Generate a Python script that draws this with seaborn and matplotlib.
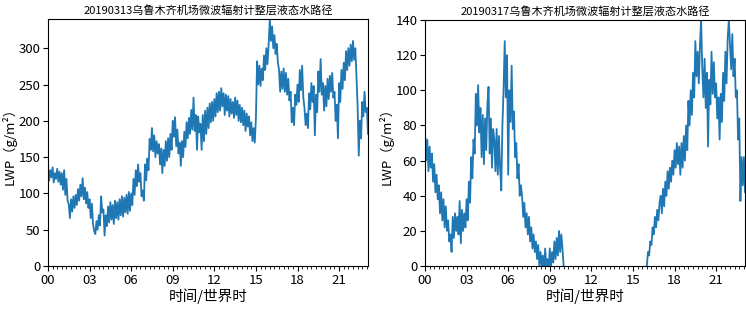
import numpy as np
import matplotlib
matplotlib.use("Agg")
import matplotlib.pyplot as plt
from matplotlib.ticker import MultipleLocator, FuncFormatter
import seaborn as sns

plt.rcParams['font.family'] = ['Noto Sans CJK SC', 'DejaVu Sans']
plt.rcParams['axes.unicode_minus'] = False

# 数据: 每5分钟一个值 (单位 g/m2)
# 2019-03-13, 00:00 - 23:05
lwp_0313 = [
    138, 118, 132, 122, 136, 115, 128, 120, 134, 116, 130, 112,   # 00
    128, 105, 132, 98, 120, 90, 85, 66, 92, 75, 96, 80,           # 01
    98, 84, 106, 90, 112, 96, 121, 92, 108, 86, 102, 80,          # 02
    92, 66, 86, 58, 48, 44, 62, 50, 70, 56, 96, 74,               # 03
    78, 42, 70, 55, 82, 60, 88, 64, 84, 58, 90, 66,               # 04
    88, 64, 92, 70, 96, 68, 94, 74, 98, 72, 102, 76,              # 05
    100, 84, 120, 98, 132, 110, 140, 116, 128, 96, 104, 90,       # 06
    140, 118, 148, 132, 175, 160, 190, 158, 180, 150, 172, 155,   # 07
    168, 140, 162, 128, 160, 138, 172, 145, 176, 150, 182, 160,   # 08
    200, 178, 205, 165, 188, 155, 170, 138, 172, 150, 185, 164,   # 09
    198, 176, 204, 182, 215, 188, 232, 186, 208, 160, 206, 184,   # 10
    196, 160, 208, 172, 214, 182, 218, 190, 224, 198, 226, 200,   # 11
    230, 206, 238, 212, 240, 214, 245, 220, 238, 208, 236, 214,   # 12
    234, 206, 230, 210, 226, 204, 232, 208, 228, 200, 222, 198,   # 13
    218, 194, 214, 186, 210, 192, 206, 180, 198, 172, 190, 170,   # 14
    205, 282, 250, 276, 248, 272, 256, 290, 270, 300, 278, 305,   # 15
    340, 310, 330, 300, 318, 292, 306, 280, 270, 240, 268, 244,   # 16
    272, 240, 266, 236, 258, 228, 240, 198, 218, 194, 236, 222,   # 17
    250, 226, 270, 242, 276, 232, 218, 194, 210, 190, 238, 216,   # 18
    252, 226, 248, 180, 236, 212, 268, 240, 285, 236, 252, 214,   # 19
    248, 220, 258, 230, 262, 240, 266, 232, 240, 200, 222, 176,   # 20
    252, 226, 270, 244, 280, 256, 296, 270, 300, 276, 305, 282,   # 21
    310, 284, 300, 262, 220, 152, 200, 176, 226, 206, 240, 212,   # 22
    218, 182,                                                     # 23
]

# 2019-03-17 第一段 00:00 - 10:00
lwp_0317_a = [
    76, 60, 72, 54, 68, 56, 64, 48, 58, 42, 52, 38,               # 00
    46, 30, 42, 26, 38, 22, 34, 20, 26, 14, 18, 8,                # 01
    28, 16, 30, 20, 28, 18, 37, 13, 32, 20, 30, 22,               # 02
    38, 26, 48, 36, 62, 50, 72, 64, 98, 80, 103, 76,              # 03
    90, 62, 86, 58, 84, 66, 92, 102, 64, 84, 56, 78,              # 04
    72, 54, 78, 52, 74, 56, 43, 80, 100, 128, 96, 120,            # 05
    52, 100, 82, 114, 78, 88, 62, 70, 50, 58, 40, 46,             # 06
    40, 28, 36, 22, 30, 18, 28, 14, 22, 10, 18, 8,                # 07
    14, 4, 12, 0, 8, 0, 6, -4, 10, 0, 4, -4,                      # 08
    10, 0, 8, 2, 14, 4, 16, 6, 20, 8, 18, 10,                     # 09
    0,                                                            # 10
]
# 第二段 16:00 - 23:05
lwp_0317_b = [
    0, 8, 6, 14, 12, 22, 18, 28, 22, 32, 26, 36,                  # 16
    40, 30, 44, 34, 48, 40, 54, 44, 56, 48, 60, 52,               # 17
    66, 56, 70, 58, 68, 52, 70, 56, 74, 60, 80, 66,               # 18
    94, 80, 100, 86, 110, 96, 128, 108, 122, 104, 126, 140,       # 19
    112, 96, 118, 90, 110, 68, 106, 92, 122, 98, 116, 96,         # 20
    104, 84, 96, 72, 98, 82, 110, 94, 122, 104, 130, 140,         # 21
    126, 112, 132, 108, 118, 96, 100, 72, 84, 37, 62, 46,         # 22
    62, 42,                                                       # 23
]

titles = ["20190313乌鲁木齐机场微波辐射计整层液态水路径",
          "20190317乌鲁木齐机场微波辐射计整层液态水路径"]

t_0313 = np.arange(len(lwp_0313)) / 12
t_a = np.arange(len(lwp_0317_a)) / 12
t_b = 16 + np.arange(len(lwp_0317_b)) / 12

color = "#1f77b4"
fig = plt.figure(figsize=(7.46, 3.09), dpi=100)
ax1 = fig.add_axes([0.0643, 0.139, 0.429, 0.799])
ax2 = fig.add_axes([0.5697, 0.139, 0.429, 0.796])

sns.lineplot(x=t_0313, y=lwp_0313, ax=ax1, color=color, linewidth=1.3)
sns.lineplot(x=t_a, y=lwp_0317_a, ax=ax2, color=color, linewidth=1.3)
sns.lineplot(x=t_b, y=lwp_0317_b, ax=ax2, color=color, linewidth=1.3)

ax1.set_ylim(0, 340)
ax2.set_ylim(0, 140)
ax2.yaxis.set_major_locator(MultipleLocator(20))

for ax, title, tend in [(ax1, titles[0], t_0313[-1]), (ax2, titles[1], t_b[-1])]:
    ax.set_xlim(0, tend)
    ax.xaxis.set_major_locator(MultipleLocator(3))
    ax.xaxis.set_minor_locator(MultipleLocator(1 / 3))
    ax.xaxis.set_major_formatter(FuncFormatter(lambda v, p: "%02d" % int(round(v))))
    ax.tick_params(axis="both", which="major", labelsize=9.5, length=3.5, pad=2)
    ax.tick_params(axis="x", which="minor", length=2)
    ax.set_title(title, fontsize=8, pad=3)
    ax.set_xlabel("时间/世界时", fontsize=10.5, labelpad=1)
    ax.set_ylabel("LWP（g/m²）", fontsize=9.5, labelpad=1)

fig.savefig("out.png", dpi=100)
